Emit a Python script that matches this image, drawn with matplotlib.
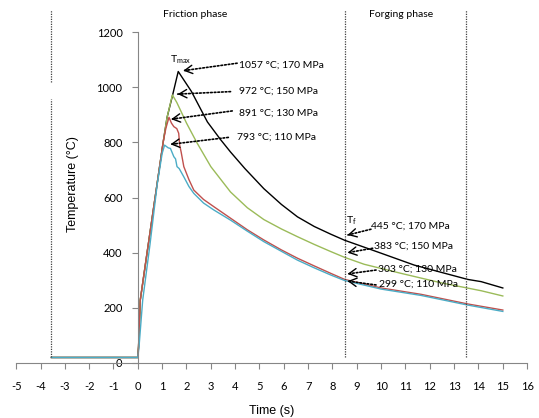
import matplotlib
matplotlib.use('Agg')
import matplotlib.pyplot as plt

plt.rcParams['font.family'] = ['Lato', 'DejaVu Sans']
plt.rcParams['mathtext.default'] = 'regular'
plt.rcParams['axes.unicode_minus'] = False

# Temperature curves (time in s, temperature in °C)
t_170 = [-3.55, 0, 0.03, 0.1, 0.38, 0.71, 1.04, 1.2, 1.42, 1.66, 2.2, 2.86, 3.4, 3.81,
         4.4, 5.18, 5.9, 6.56, 7.25, 7.93, 8.5, 9.3, 10.0, 11.36, 12.5, 13.56, 14.11, 15.0]
T_170 = [20, 20, 60, 228, 400, 600, 800, 890, 968, 1057, 985, 874, 810, 765,
         705, 632, 575, 530, 495, 467, 445, 420, 398, 355, 328, 303, 295, 272]

t_150 = [-3.55, 0, 0.03, 0.1, 0.38, 0.71, 1.04, 1.2, 1.42, 1.6, 1.75, 2.0, 2.3, 2.44,
         3.0, 3.81, 4.5, 5.18, 5.9, 6.56, 7.25, 7.93, 8.5, 9.3, 10.82, 12.5, 14.11, 15.0]
T_150 = [20, 20, 60, 228, 400, 600, 800, 890, 972, 945, 917, 870, 820, 797,
         712, 620, 563, 520, 486, 458, 430, 404, 383, 358, 325, 290, 262, 243]

t_130 = [-3.55, 0, 0.03, 0.1, 0.38, 0.71, 1.04, 1.15, 1.28, 1.38, 1.48, 1.6, 1.68, 1.72,
         1.78, 1.89, 2.1, 2.3, 2.7, 3.12, 3.81, 4.5, 5.18, 5.9, 6.56, 7.25, 7.93, 8.5,
         10.0, 11.64, 13.56, 15.0]
T_130 = [20, 20, 60, 228, 400, 600, 800, 850, 891, 870, 857, 850, 833, 790,
         765, 712, 665, 627, 593, 567, 525, 483, 446, 410, 380, 352, 325, 303,
         272, 249, 214, 192]

t_110 = [-3.55, 0, 0.05, 0.2, 0.5, 0.8, 1.0, 1.1, 1.25, 1.34, 1.48, 1.55, 1.61, 1.7,
         1.89, 2.1, 2.3, 2.7, 3.12, 3.81, 4.5, 5.18, 5.9, 6.56, 7.25, 7.93, 8.5,
         10.0, 11.64, 13.56, 15.0]
T_110 = [20, 20, 60, 228, 430, 650, 760, 790, 780, 778, 748, 740, 712, 705,
         675, 640, 615, 580, 555, 518, 478, 440, 405, 373, 345, 319, 299,
         268, 245, 210, 187]

# Phase boundaries and titles
phase_x = [-3.55, 8.5, 13.5]
phase_names = ['Friction phase', 'Forging phase']
phase_name_x = [2.35, 10.8]

# Annotations: label, arrow tip, arrow tail, text position
ann_labels = ['1057 °C; 170 MPa', '972 °C; 150 MPa', '891 °C; 130 MPa', '793 °C; 110 MPa',
              '445 °C; 170 MPa', '383 °C; 150 MPa', '303 °C; 130 MPa', '299 °C; 110 MPa']
ann_tips = [(1.87, 1060), (1.64, 975), (1.37, 884), (1.34, 793),
            (8.62, 464), (8.62, 400), (8.62, 323), (8.62, 297)]
ann_tails = [(4.08, 1087), (3.81, 984), (3.88, 914), (3.72, 818),
             (9.58, 485), (9.65, 416), (9.79, 337), (9.79, 283)]
ann_text = [(4.14, 1080), (4.15, 986), (4.15, 905), (4.09, 817),
            (9.58, 497), (9.72, 425), (9.86, 341), (9.9, 286)]

fig = plt.figure(figsize=(5.39, 4.18), dpi=100)
ax = fig.add_axes([0.030, 0.1316, 0.948, 0.8445])

# Curves
ax.plot(t_170, T_170, color='black', lw=1)
ax.plot(t_150, T_150, color='#9BBB59', lw=1)
ax.plot(t_130, T_130, color='#C0504D', lw=1)
ax.plot(t_110, T_110, color='#4BACC6', lw=1)

# Phase separators (dotted)
dots = (0, (1, 1))
ax.plot([phase_x[0]] * 2, [20, 957], color='#404040', lw=0.9, ls=dots)
ax.plot([phase_x[0]] * 2, [1019, 1280], color='#404040', lw=0.9, ls=dots)
for px in phase_x[1:]:
    ax.plot([px, px], [20, 1280], color='#404040', lw=0.9, ls=dots)
for name, nx in zip(phase_names, phase_name_x):
    ax.text(nx, 1262, name, ha='center', va='center', fontsize=7.5)

# Arrows with labels
for lab, tip, tail, tpos in zip(ann_labels, ann_tips, ann_tails, ann_text):
    ax.annotate('', xy=tip, xytext=tail,
                arrowprops=dict(arrowstyle='-', lw=1.2, ls=(0, (1, 1.2)), color='black',
                                shrinkA=0, shrinkB=0))
    short = (tip[0] + 0.1 * (tail[0] - tip[0]), tip[1] + 0.1 * (tail[1] - tip[1]))
    ax.annotate('', xy=tip, xytext=short,
                arrowprops=dict(arrowstyle='->,head_length=0.55,head_width=0.3', lw=1,
                                color='black', shrinkA=0, shrinkB=0))
    ax.text(tpos[0], tpos[1], lab, ha='left', va='center', fontsize=7.5)

ax.text(1.74, 1099, 'T$_{max}$', ha='center', va='center', fontsize=7.5)
ax.text(8.76, 516, 'T$_{f}$', ha='center', va='center', fontsize=7.5)

# Axes
ax.set_xlim(-5, 16)
ax.set_ylim(0, 1280)
ax.set_xticks(range(-5, 17))
ax.set_yticks(range(0, 1201, 200))
ax.spines['left'].set_position(('data', 0))
ax.spines['left'].set_bounds(0, 1200)
ax.spines['top'].set_visible(False)
ax.spines['right'].set_visible(False)
for s in ['left', 'bottom']:
    ax.spines[s].set_color('#868686')
    ax.spines[s].set_linewidth(0.8)
ax.tick_params(axis='both', direction='out', length=4, width=0.8, color='#868686', labelsize=8)
ax.tick_params(axis='y', pad=7)
ax.tick_params(axis='x', pad=9)

ax.set_xlabel('Time (s)', fontsize=9, family=['Liberation Sans'], labelpad=9)
ax.text(-2.66, 650, 'Temperature (°C)', rotation=90, ha='center', va='center',
        fontsize=9, family=['Liberation Sans'])

plt.savefig('out.png', dpi=100)
